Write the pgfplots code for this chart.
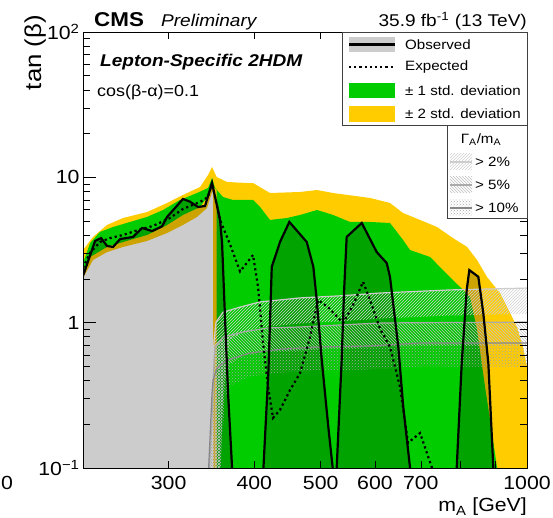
\documentclass[border=0pt]{standalone}
\usepackage{fontspec}
\setmainfont{Liberation Sans}[FakeStretch=1.12]
\usepackage{pgfplots}
\pgfplotsset{compat=1.18}
\usetikzlibrary{patterns}

\definecolor{onesig}{RGB}{0,204,0}
\definecolor{twosig}{RGB}{255,204,0}
\definecolor{wtwo}{RGB}{205,205,205}
\definecolor{wfive}{RGB}{170,170,170}
\definecolor{wten}{RGB}{135,135,135}
\newcommand\fs[1]{\fontsize{#1}{#1}\selectfont}

\begin{document}
\begin{tikzpicture}[x=1pt,y=1pt]
\useasboundingbox (-83,-50) rectangle (470,468);
\begin{axis}[
  at={(0,0)}, anchor=south west,
  scale only axis, width=444pt, height=436pt,
  xmode=log, ymode=log,
  xmin=225, xmax=1000, ymin=0.1, ymax=100,
  xtick={300,400,500,600,700,800,900,1000},
  xticklabels={300,400,500,600,700,,,1000},
  xminorticks=false,
  ytick={0.1,1,10,100},
  yticklabels={10\textsuperscript{−1},1,10,10\textsuperscript{2}},
  tick align=inside,
  major tick length=13pt, minor tick length=7pt,
  xtick style={/pgfplots/major tick length=7pt},
  tick style={black, line width=0.5pt},
  tick label style={font=\fs{19}},
  xticklabel style={yshift=-5pt},
  axis line style={black, line width=0.8pt},
  axis on top,
  clip=true,
]
% +-2 sigma band
\addplot[fill=twosig, draw=none] coordinates {
 (225.0,3.16) (232.7,3.89) (243.9,4.70) (257.4,5.25) (279.0,5.77) (298.4,6.66)
 (314.8,7.56) (333.4,8.58) (342.5,10.38) (347.1,11.78) (352.5,10.05) (365.1,9.29)
 (390.4,9.14) (398.4,9.14) (421.7,7.80) (466.5,7.93) (493.9,8.18) (521.2,7.80)
 (590.2,7.21) (631.1,6.66) (659.4,5.68) (698.2,5.09) (739.2,4.55) (779.9,3.82)
 (817.6,3.32) (845.5,2.70) (874.4,2.06) (913.1,1.60) (944.5,1.17) (967.0,0.934)
 (986.7,0.680) (1000,0.495) (1044,0.213) (1080,0.05)
 (348.3,0.05) (348.3,8.18) (346.0,7.56) (341.3,6.15) (330.0,5.34) (314.8,4.70)
 (298.4,4.14) (279.0,3.65) (257.4,3.32) (243.9,3.06) (232.7,2.70) (225.0,2.03)
} -- cycle;
% +-1 sigma band
\addplot[fill=onesig, draw=none] coordinates {
 (225.0,2.57) (230.4,3.53) (238.2,4.21) (248.9,4.55) (263.5,4.93) (279.0,5.34)
 (294.4,5.96) (311.7,6.99) (330.0,7.80) (342.5,8.45) (347.1,9.90) (350.6,8.45)
 (360.2,7.32) (372.4,6.99) (398.4,6.99) (407.9,6.25) (421.7,5.09) (446.5,5.25)
 (466.5,5.51) (493.9,5.96) (521.2,5.51) (551.9,4.93) (590.2,4.93) (631.1,4.85)
 (659.4,3.71) (675.1,3.16) (722.1,2.83) (754.1,2.30) (798.5,1.76) (825.9,1.50)
 (845.5,0.890) (868.5,0.361) (889.2,0.174) (904.3,0.1) (912,0.05)
 (352.5,0.05) (352.5,8.18) (347.1,8.72) (344.8,7.80) (333.4,6.25) (314.8,5.51)
 (298.4,4.70) (279.0,4.01) (263.5,3.71) (243.9,3.32) (230.4,2.83) (225.0,2.25)
} -- cycle;
% observed exclusion (shaded overlay)
\addplot[fill=black, fill opacity=0.2, draw=none] coordinates {
 (225.0,0.05) (225.0,2.10) (234.3,3.65) (239.1,3.82) (243.9,3.37) (248.9,3.32)
 (254.8,3.76) (266.2,3.89) (274.4,4.48) (283.8,4.27) (293.4,4.60) (298.4,5.34)
 (306.5,6.15) (314.8,7.10) (322.3,6.80) (331.1,6.25) (339.0,6.35) (347.1,9.14)
 (356.6,5.09) (359.0,3.53) (362.7,1.04) (366.3,0.328) (371.3,0.1) (372.0,0.05)
} -- cycle;
\addplot[fill=black, fill opacity=0.2, draw=none] coordinates {
 (412.5,0.05) (412.5,0.1) (419.5,0.472) (424.2,2.42) (436.1,3.59) (450.0,4.93)
 (477.1,3.59) (487.8,2.42) (493.4,1.43) (501.8,0.553) (513.0,0.191) (520.6,0.1) (520.6,0.05)
} -- cycle;
\addplot[fill=black, fill opacity=0.2, draw=none] coordinates {
 (527.6,0.05) (527.6,0.1) (536.5,0.553) (540.7,1.60) (545.6,3.89) (574.0,4.85)
 (590.2,3.76) (603.6,3.06) (624.2,2.57) (631.1,2.06) (649.0,0.680) (659.9,0.263)
 (675.1,0.1) (675.1,0.05)
} -- cycle;
\addplot[fill=black, fill opacity=0.2, draw=none] coordinates {
 (789.7,0.05) (789.7,0.1) (803.0,0.525) (816.6,1.68) (823.8,2.30) (849.1,2.07)
 (863.5,1.16) (878.2,0.525) (893.0,0.1) (893.0,0.05)
} -- cycle;
% width regions: hatched strips below each contour
\addplot[pattern=north east lines, pattern color=white!82!black, draw=none] coordinates {
 (343.0,0.07) (347.1,0.294) (349.4,0.760) (351.8,1.01) (360.2,1.18) (381.4,1.28)
 (407.9,1.39) (466.5,1.48) (533.6,1.53) (610.3,1.60) (668.3,1.63) (772.2,1.68) (1000,1.73)
 (1000,1.15) (772.2,1.12) (610.3,1.067) (533.6,1.02) (466.5,0.987) (407.9,0.927)
 (381.4,0.853) (368.8,0.75) (362.7,0.5) (359.0,0.25) (356.6,0.07)
} -- cycle;
\addplot[pattern=north west lines, pattern color=white!75!black, draw=none] coordinates {
 (342.5,0.07) (347.1,0.214) (349.4,0.553) (350.6,0.680) (360.2,0.797) (385.1,0.863)
 (417.7,0.919) (466.5,0.934) (533.6,0.964) (610.3,0.995) (1000,1.01)
 (1000,0.697) (624.8,0.686) (533.6,0.665) (466.5,0.644) (417.7,0.634) (385.1,0.595)
 (368.8,0.52) (362.7,0.4) (359.0,0.2) (356.6,0.07)
} -- cycle;
\addplot[pattern=crosshatch dots, pattern color=white!65!black, draw=none] coordinates {
 (342.0,0.07) (347.1,0.328) (348.3,0.403) (353.0,0.488) (365.1,0.553) (394.4,0.618)
 (440.6,0.659) (493.9,0.680) (590.2,0.691) (698.2,0.725) (1000,0.725)
 (1000,0.497) (698.2,0.50) (590.2,0.477) (493.9,0.469) (440.6,0.455) (394.4,0.426)
 (368.8,0.37) (362.7,0.3) (359.0,0.15) (356.6,0.07)
} -- cycle;
% width contours
\addplot[wtwo, line width=1.2pt] coordinates {
 (343.0,0.07) (347.1,0.294) (349.4,0.760) (351.8,1.01) (360.2,1.18) (381.4,1.28)
 (407.9,1.39) (466.5,1.48) (533.6,1.53) (610.3,1.60) (668.3,1.63) (772.2,1.68) (1000,1.73)
};
\addplot[wfive, line width=1.2pt] coordinates {
 (342.5,0.07) (347.1,0.214) (349.4,0.553) (350.6,0.680) (360.2,0.797) (385.1,0.863)
 (417.7,0.919) (466.5,0.934) (533.6,0.964) (610.3,0.995) (1000,1.01)
};
\addplot[wten, line width=1.2pt] coordinates {
 (342.0,0.07) (347.1,0.328) (348.3,0.403) (353.0,0.488) (365.1,0.553) (394.4,0.618)
 (440.6,0.659) (493.9,0.680) (590.2,0.691) (698.2,0.725) (1000,0.725)
};
% expected limit
\addplot[black, line width=2.2pt, dash pattern=on 2.2pt off 3pt] coordinates {
 (225.0,2.38) (230.4,3.02) (238.2,3.59) (246.4,3.82) (257.4,4.01) (270.7,4.34)
 (284.7,4.63) (301.4,5.25) (314.8,6.06) (333.4,6.77) (342.5,7.32) (347.1,9.14)
 (356.6,5.09) (368.8,3.45) (381.4,2.25) (398.4,2.92) (405.1,1.76) (412.0,0.725)
 (419.0,0.361) (426.0,0.221) (436.1,0.251) (451.1,0.344) (466.5,0.450) (482.4,0.797)
 (495.6,1.43) (512.5,1.28) (538.9,0.995) (555.6,1.28) (576.5,1.91) (590.2,1.43)
 (610.3,0.91) (631.1,0.680) (652.8,0.361) (670.6,0.149) (698.2,0.174) (726.9,0.1)
 (735.0,0.07)
};
% observed limit
\addplot[black, line width=2.2pt] coordinates {
 (225.0,2.10) (234.3,3.65) (239.1,3.82) (243.9,3.37) (248.9,3.32)
 (254.8,3.76) (266.2,3.89) (274.4,4.48) (283.8,4.27) (293.4,4.60) (298.4,5.34)
 (306.5,6.15) (314.8,7.10) (322.3,6.80) (331.1,6.25) (339.0,6.35) (347.1,9.14)
 (356.6,5.09) (359.0,3.53) (362.7,1.04) (366.3,0.328) (371.3,0.1) (372.0,0.07)
};
\addplot[black, line width=2.2pt] coordinates {
 (412.5,0.07) (412.5,0.1) (419.5,0.472) (424.2,2.42) (436.1,3.59) (450.0,4.93)
 (477.1,3.59) (487.8,2.42) (493.4,1.43) (501.8,0.553) (513.0,0.191) (520.6,0.1) (520.6,0.07)
};
\addplot[black, line width=2.2pt] coordinates {
 (527.6,0.07) (527.6,0.1) (536.5,0.553) (540.7,1.60) (545.6,3.89) (574.0,4.85)
 (590.2,3.76) (603.6,3.06) (624.2,2.57) (631.1,2.06) (649.0,0.680) (659.9,0.263)
 (675.1,0.1) (675.1,0.07)
};
\addplot[black, line width=2.2pt] coordinates {
 (789.7,0.07) (789.7,0.1) (803.0,0.525) (816.6,1.68) (823.8,2.30) (849.1,2.07)
 (863.5,1.16) (878.2,0.525) (893.0,0.1) (893.0,0.07)
};
\end{axis}

% header and annotations
\node[anchor=base west, font=\fs{20}\bfseries, inner sep=0] at (11,441) {CMS};
\node[anchor=base west, font=\fs{17}\itshape, inner sep=0] at (78,441) {Preliminary};
\node[anchor=base east, font=\fs{17}, inner sep=0] at (444,441) {35.9 fb\textsuperscript{-1}\,\,(13 TeV)};
\node[anchor=base west, font=\fs{17}\bfseries\itshape, inner sep=0] at (17,401) {Lepton-Specific 2HDM};
\node[anchor=base west, font=\fs{16}, inner sep=0] at (14,371) {cos(β-α)=0.1};
\node[anchor=base east, font=\fs{19}, inner sep=0] at (444,-44) {m\textsubscript{A} [GeV]};
\node[anchor=base east, rotate=90, font=\fs{23}, inner sep=0] at (-42,453) {tan (β)};
\node[anchor=base west, font=\fs{19}, inner sep=0] at (-82,-22) {0};

% main legend
\draw[fill=white, draw=black!75, line width=0.6pt] (259,343) rectangle (444,436);
\fill[black!20] (266,416) rectangle (312,431);
\draw[black, line width=2.2pt] (266,423.5) -- (312,423.5);
\draw[black, line width=2.2pt, dash pattern=on 2.2pt off 3pt] (266,401) -- (312,401);
\fill[onesig] (266,370) rectangle (312,385);
\fill[twosig] (266,346) rectangle (312,362);
\begin{scope}[every node/.style={anchor=west, font=\fs{13.5}, inner sep=0}]
\node at (322,423.5) {Observed};
\node at (322,401) {Expected};
\node at (322,377.5) {± 1 std. deviation};
\node at (322,354) {± 2 std. deviation};
\end{scope}

% width legend
\draw[fill=white, draw=black!75, line width=0.6pt] (364,250) rectangle (444,343);
\node[font=\fs{13.5}, inner sep=0] at (398,328) {Γ\textsubscript{A}/m\textsubscript{A}};
\fill[pattern=north east lines, pattern color=white!82!black] (367,298) rectangle (389,314);
\draw[wtwo, line width=1.2pt] (367,306) -- (389,306);
\fill[pattern=north west lines, pattern color=white!75!black] (367,275) rectangle (389,291);
\draw[wfive, line width=1.2pt] (367,283) -- (389,283);
\fill[pattern=crosshatch dots, pattern color=white!65!black] (367,252) rectangle (389,268);
\draw[wten, line width=1.2pt] (367,260) -- (389,260);
\begin{scope}[every node/.style={anchor=west, font=\fs{13.5}, inner sep=0}]
\node at (392,306) {> 2\%};
\node at (392,283) {> 5\%};
\node at (392,260) {> 10\%};
\end{scope}
\end{tikzpicture}
\end{document}
